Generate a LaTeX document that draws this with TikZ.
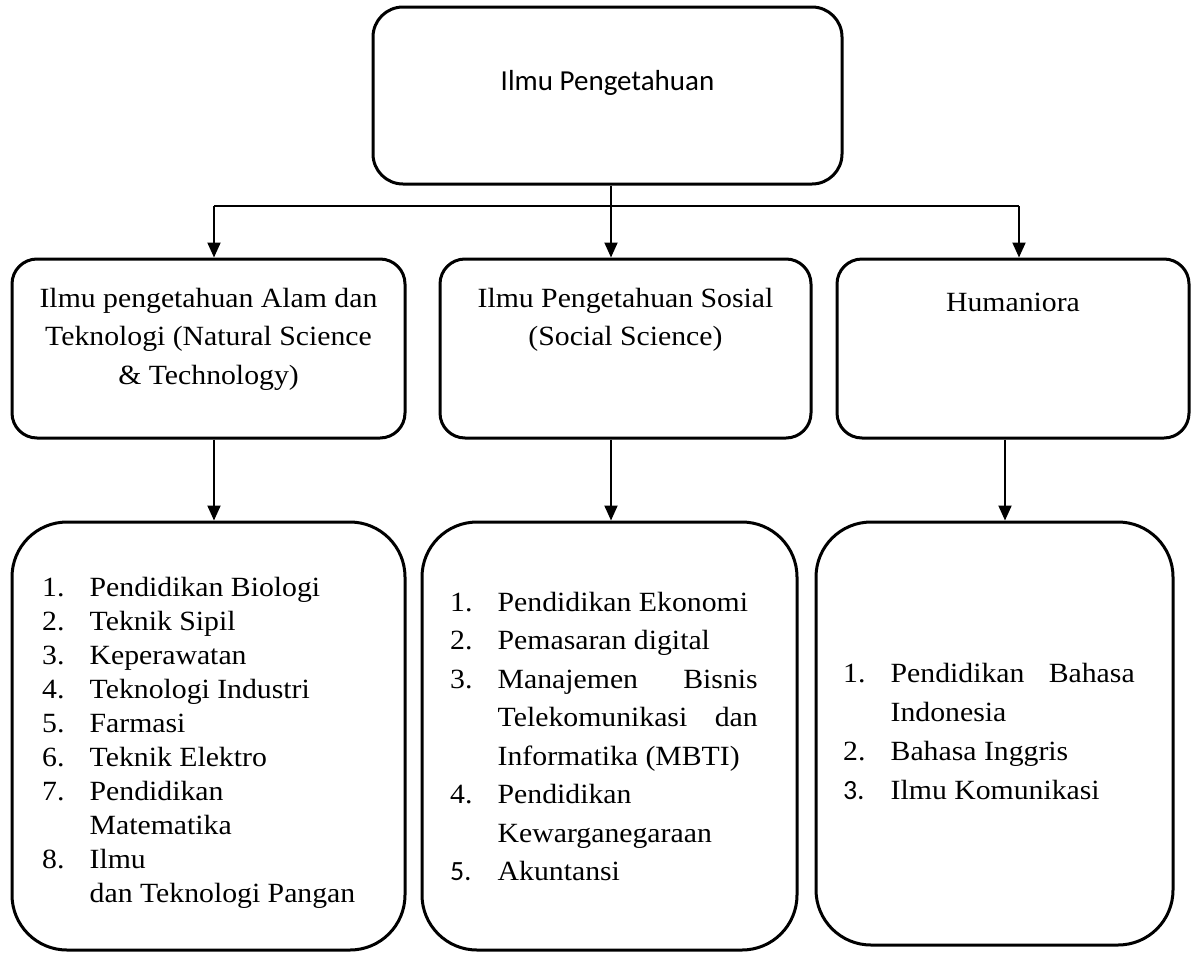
\documentclass[tikz,border=0pt]{standalone}
\usepackage{fontspec}
\setmainfont{Liberation Serif}[FakeStretch=1.07]
\newfontfamily\calibri{Carlito}
\usepackage{tikz}
\usetikzlibrary{arrows.meta}
\tikzset{rootblock/.style={rectangle,draw,line width=3pt,rounded corners=30pt,minimum width=469pt,minimum height=177pt},
         block/.style={rectangle,draw,line width=3pt,rounded corners=25pt,minimum height=179pt},
         listblock/.style={rectangle,draw,line width=3pt,rounded corners=55pt,minimum height=428pt},
         heading/.style={anchor=base,align=center,inner sep=0pt,font=\fontsize{27.8}{38.5}\selectfont},
         listtext/.style={anchor=base west,align=left,inner sep=0pt},
         link/.style={line width=1.2pt},
         arrow/.style={-{Triangle[length=15pt,width=13pt]},line width=2pt}}
\newcommand{\itemno}[1]{\makebox[47.5pt][l]{#1}}
\newcommand{\itemgap}{\hspace*{47.5pt}}

\begin{document}
\begin{tikzpicture}[x=1pt,y=-1pt]
    \useasboundingbox (0,0) rectangle (1198,953);
    % boxes
    \node (root) [rootblock] at (607.5,95.5) {};
    \node (nat) [block, minimum width=393pt] at (208.5,348.5) {};
    \node (soc) [block, minimum width=371pt] at (625.5,348.5) {};
    \node (hum) [block, minimum width=352pt] at (1013,348.5) {};
    \node (natlist) [listblock, minimum width=393pt] at (208.5,736) {};
    \node (soclist) [listblock, minimum width=375pt] at (609.5,736) {};
    \node (humlist) [listblock, minimum width=357pt, minimum height=423pt] at (994.5,733.5) {};
    % texts (base = last line)
    \node (rootlbl) [anchor=base, inner sep=0pt, font=\calibri\fontsize{29}{35}\selectfont] at (607.5,90) {Ilmu Pengetahuan};
    \node (natlbl) [heading] at (208.5,384) {Ilmu pengetahuan Alam dan\\Teknologi (Natural Science\\\& Technology)};
    \node (soclbl) [heading] at (625.5,345.5) {Ilmu Pengetahuan Sosial\\(Social Science)};
    \node (humlbl) [heading] at (1013,311) {Humaniora};
    \node (natitems) [listtext, font=\fontsize{27.8}{34}\selectfont] at (42,902)
      {\itemno{1.}Pendidikan Biologi\\ \itemno{2.}Teknik Sipil\\ \itemno{3.}Keperawatan\\
       \itemno{4.}Teknologi Industri\\ \itemno{5.}Farmasi\\ \itemno{6.}Teknik Elektro\\
       \itemno{7.}Pendidikan\\ \itemgap Matematika\\ \itemno{8.}Ilmu\\ \itemgap dan Teknologi Pangan};
    \node (socitems) [listtext, font=\fontsize{27.8}{38.5}\selectfont] at (450,880.5)
      {\itemno{1.}Pendidikan Ekonomi\\ \itemno{2.}Pemasaran digital\\
       \itemno{3.}\makebox[260pt][s]{Manajemen Bisnis}\\ \itemgap\makebox[260pt][s]{Telekomunikasi dan}\\
       \itemgap Informatika (MBTI)\\ \itemno{4.}Pendidikan\\ \itemgap Kewarganegaraan\\
       \itemno{\calibri 5.}Akuntansi};
    \node (humitems) [listtext, font=\fontsize{27.8}{38.7}\selectfont] at (843,799)
      {\itemno{1.}\makebox[244pt][s]{Pendidikan Bahasa}\\ \itemgap Indonesia\\
       \itemno{2.}Bahasa Inggris\\ \itemno{\calibri 3.}Ilmu Komunikasi};
    % connectors
    \coordinate (hub) at (611,206);
    \coordinate (hubL) at (214,206);
    \coordinate (hubR) at (1019,206);
    \coordinate (dropR) at (1005,480);
    \draw[link] (root.south -| hub) -- (hub);
    \draw[link] (hubL) -- (hubR);
    \foreach \j/\b in {hubL/nat,hub/soc,hubR/hum} {\draw[arrow] (\j) -- (\j |- \b.north);}
    \foreach \b/\l/\j in {nat/natlist/hubL,soc/soclist/hub,hum/humlist/dropR} {\draw[arrow] (\b.south -| \j) -- (\l.north -| \j);}
\end{tikzpicture}
\end{document}
